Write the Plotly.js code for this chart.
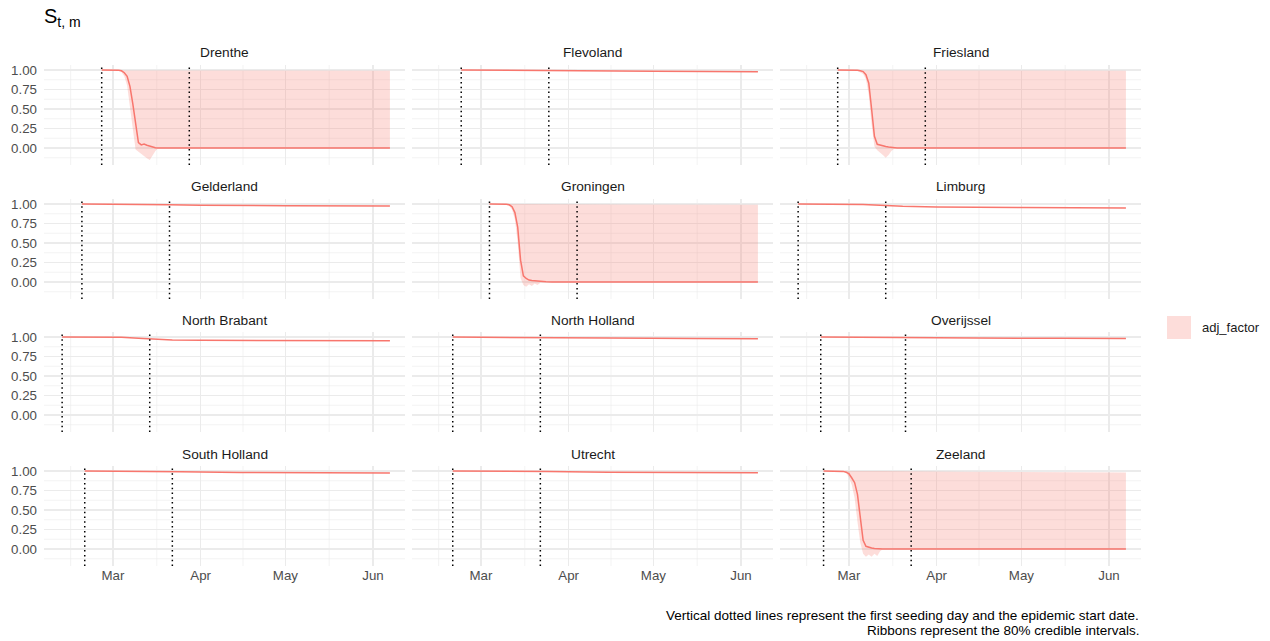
<!DOCTYPE html>
<html><head><meta charset="utf-8">
<script src="https://cdn.plot.ly/plotly-3.0.1.min.js"></script>
<style>html,body{margin:0;padding:0;background:#fff}#chart{width:1270px;height:641px}</style>
</head><body><div id="chart"></div>
<script>
// ---------- data ----------
const regions = ['Drenthe','Flevoland','Friesland','Gelderland','Groningen','Limburg','North Brabant','North Holland','Overijssel','South Holland','Utrecht','Zeeland'];
const seedDates  = ['2020-02-26','2020-02-23','2020-02-26','2020-02-19','2020-03-04','2020-02-12','2020-02-12','2020-02-20','2020-02-20','2020-02-20','2020-02-20','2020-02-21'];
const startDates = ['2020-03-28','2020-03-25','2020-03-28','2020-03-21','2020-04-04','2020-03-14','2020-03-14','2020-03-22','2020-03-21','2020-03-22','2020-03-22','2020-03-23'];

const drentheDates = ['2020-02-26','2020-02-28','2020-03-01','2020-03-02','2020-03-03','2020-03-04','2020-03-05','2020-03-06','2020-03-07','2020-03-08','2020-03-09','2020-03-10','2020-03-11','2020-03-12','2020-03-13','2020-03-14','2020-03-15','2020-03-16','2020-03-17','2020-03-20','2020-04-15','2020-06-07'];
const drentheMed = [1,1,1,1,0.998,0.99,0.965,0.92,0.79,0.57,0.3,0.07,0.04,0.05,0.035,0.025,0.01,0.004,0,0,0,0];
const drentheLo  = [1,1,1,1,0.995,0.975,0.92,0.8,0.55,0.25,-0.02,-0.04,-0.07,-0.1,-0.13,-0.155,-0.1,-0.04,0,0,0,0];
const drentheHi  = [1,1,1,1,1,1,1,1,1,1,1,1,1,1,1,1,1,1,1,0.998,0.994,0.99];

const flevolandDates = ['2020-02-23','2020-03-15','2020-03-25','2020-04-15','2020-05-01','2020-05-20','2020-06-07'];
const flevolandMed = [1,0.998,0.995,0.988,0.984,0.981,0.979];

const frieslandDates = ['2020-02-26','2020-03-01','2020-03-03','2020-03-04','2020-03-05','2020-03-06','2020-03-07','2020-03-08','2020-03-09','2020-03-10','2020-03-11','2020-03-12','2020-03-13','2020-03-14','2020-03-15','2020-03-16','2020-03-17','2020-03-18','2020-03-25','2020-04-20','2020-06-07'];
const frieslandMed = [1,1,1,0.998,0.99,0.98,0.94,0.83,0.5,0.15,0.047,0.035,0.025,0.018,0.012,0.007,0.003,0,0,0,0];
const frieslandLo  = [1,1,1,0.99,0.975,0.95,0.88,0.68,0.3,0.02,-0.03,-0.06,-0.09,-0.124,-0.09,-0.04,-0.01,0,0,0,0];
const frieslandHi  = [1,1,1,1,1,1,1,1,1,1,1,1,1,1,1,1,1,1,0.998,0.994,0.99];

const gelderlandDates = ['2020-02-19','2020-03-10','2020-03-21','2020-04-01','2020-04-15','2020-05-01','2020-06-07'];
const gelderlandMed = [1,0.998,0.99,0.985,0.98,0.978,0.975];

const groningenDates = ['2020-03-04','2020-03-08','2020-03-10','2020-03-11','2020-03-12','2020-03-13','2020-03-14','2020-03-15','2020-03-16','2020-03-17','2020-03-18','2020-03-19','2020-03-20','2020-03-21','2020-03-22','2020-03-24','2020-03-26','2020-04-20','2020-06-07'];
const groningenMed = [1,1,0.998,0.99,0.965,0.89,0.7,0.28,0.08,0.045,0.025,0.02,0.015,0.01,0.008,0.003,0,0,0];
const groningenLo  = [1,1,0.99,0.975,0.93,0.8,0.5,0.05,-0.04,-0.06,-0.03,-0.05,-0.02,-0.04,-0.01,0,0,0,0];
const groningenHi  = [1,1,1,1,1,1,1,1,1,1,1,1,1,1,1,1,1,0.995,0.99];

const limburgDates = ['2020-02-12','2020-03-02','2020-03-06','2020-03-10','2020-03-14','2020-03-20','2020-04-01','2020-04-15','2020-05-01','2020-06-07'];
const limburgMed = [1,0.999,0.995,0.988,0.979,0.97,0.961,0.956,0.954,0.95];

const northBrabantDates = ['2020-02-12','2020-03-04','2020-03-10','2020-03-16','2020-03-22','2020-04-01','2020-05-01','2020-06-07'];
const northBrabantMed = [1,0.998,0.985,0.97,0.962,0.957,0.953,0.952];

const northHollandDates = ['2020-02-20','2020-03-15','2020-03-25','2020-04-15','2020-05-15','2020-06-07'];
const northHollandMed = [1,0.998,0.992,0.986,0.981,0.979];

const overijsselDates = ['2020-02-20','2020-03-15','2020-03-25','2020-04-15','2020-05-15','2020-06-07'];
const overijsselMed = [1,0.998,0.993,0.987,0.983,0.981];

const southHollandDates = ['2020-02-20','2020-03-15','2020-03-25','2020-04-15','2020-05-15','2020-06-07'];
const southHollandMed = [1,0.997,0.99,0.982,0.977,0.975];

const utrechtDates = ['2020-02-20','2020-03-15','2020-03-25','2020-04-15','2020-05-15','2020-06-07'];
const utrechtMed = [1,0.998,0.992,0.984,0.979,0.976];

const zeelandDates = ['2020-02-21','2020-02-26','2020-02-28','2020-02-29','2020-03-01','2020-03-02','2020-03-03','2020-03-04','2020-03-05','2020-03-06','2020-03-07','2020-03-08','2020-03-09','2020-03-10','2020-03-11','2020-03-12','2020-03-13','2020-04-10','2020-06-07'];
const zeelandMed = [1,1,0.995,0.985,0.965,0.91,0.85,0.7,0.37,0.11,0.035,0.02,0.012,0.006,0.002,0,0,0,0];
const zeelandLo  = [1,1,0.99,0.97,0.92,0.82,0.65,0.35,0.08,-0.06,-0.1,-0.07,-0.1,-0.06,-0.09,-0.03,0,0,0];
const zeelandHi  = [1,1,1,1,1,1,1,1,1,1,1,1,1,1,1,1,1,0.99,0.98];

const xTickVals = ['2020-03-01','2020-04-01','2020-05-01','2020-06-01'];
const xTickText = ['Mar','Apr','May','Jun'];
const xMinorVals = ['2020-02-15','2020-03-16 12:00','2020-04-16','2020-05-16 12:00'];
const yTickVals = [0,0.25,0.5,0.75,1];
const yTickText = ['0.00','0.25','0.50','0.75','1.00'];
const yMinorVals = [-0.125,0.125,0.375,0.625,0.875];
const legendLabel = 'adj_factor';
const captionLines = ['Vertical dotted lines represent the first seeding day and the epidemic start date.','Ribbons represent the 80% credible intervals.'];

// ---------- build ----------
const series = [
  {x:drentheDates, y:drentheMed, lo:drentheLo, hi:drentheHi},
  {x:flevolandDates, y:flevolandMed},
  {x:frieslandDates, y:frieslandMed, lo:frieslandLo, hi:frieslandHi},
  {x:gelderlandDates, y:gelderlandMed},
  {x:groningenDates, y:groningenMed, lo:groningenLo, hi:groningenHi},
  {x:limburgDates, y:limburgMed},
  {x:northBrabantDates, y:northBrabantMed},
  {x:northHollandDates, y:northHollandMed},
  {x:overijsselDates, y:overijsselMed},
  {x:southHollandDates, y:southHollandMed},
  {x:utrechtDates, y:utrechtMed},
  {x:zeelandDates, y:zeelandMed, lo:zeelandLo, hi:zeelandHi}
];

const W = 1270, H = 641;
const colX = [[44,405],[412,773],[780,1141]];
const rowY = [[65,165],[199,299],[332,432],[466,566]];
const xRange = ['2020-02-05 14:00','2020-06-12 08:00'];
const yRange = [-0.218, 1.064];
const FONT = 'Liberation Sans, Arial, sans-serif';
const LINE = '#F8766D';
const FILL = 'rgba(248,118,109,0.25)';
const GRID = '#EBEBEB';

const traces = [];
const layout = {
  width: W, height: H,
  margin: {l:0, r:0, t:0, b:0},
  paper_bgcolor: '#fff', plot_bgcolor: '#fff',
  showlegend: false,
  font: {family: FONT, size: 13, color: '#4D4D4D'},
  title: {text: 'S<sub>t, m</sub>', x: 44/W, xanchor: 'left', xref: 'paper', y: 1 - 16/H, yanchor: 'middle', yref: 'container', font: {family: FONT, size: 20, color: '#000'}},
  shapes: [], annotations: []
};

regions.forEach((name, i) => {
  const r = Math.floor(i/3), c = i % 3;
  const n = i + 1;
  const xa = n === 1 ? 'x' : 'x' + n;
  const ya = n === 1 ? 'y' : 'y' + n;
  const s = series[i];
  layout['xaxis' + (n === 1 ? '' : n)] = {
    type: 'date', domain: [colX[c][0]/W, colX[c][1]/W], range: xRange, anchor: ya,
    tickmode: 'array', tickvals: xTickVals, ticktext: xTickText,
    showticklabels: r === 3, ticks: '', showline: false, zeroline: false,
    showgrid: true, gridcolor: GRID, gridwidth: 1.1, fixedrange: true,
    tickfont: {family: FONT, size: 13.3, color: '#4D4D4D'}
  };
  layout['yaxis' + (n === 1 ? '' : n)] = {
    domain: [1 - rowY[r][1]/H, 1 - rowY[r][0]/H], range: yRange, anchor: xa,
    tickmode: 'array', tickvals: yTickVals, ticktext: yTickText,
    showticklabels: c === 0, ticks: '', ticklabelstandoff: 6, showline: false, zeroline: false,
    showgrid: true, gridcolor: GRID, gridwidth: 1.1, fixedrange: true,
    tickfont: {family: FONT, size: 13.3, color: '#4D4D4D'}
  };
  yMinorVals.forEach(v => layout.shapes.push({type:'line', layer:'below', xref: xa + ' domain', x0:0, x1:1, yref: ya, y0:v, y1:v, line:{color:GRID, width:0.6}}));
  xMinorVals.forEach(v => layout.shapes.push({type:'line', layer:'below', xref: xa, x0:v, x1:v, yref: ya + ' domain', y0:0, y1:1, line:{color:GRID, width:0.6}}));
  if (s.lo) {
    traces.push({
      type: 'scatter', mode: 'lines', xaxis: xa, yaxis: ya,
      x: s.x.concat(s.x.slice().reverse()),
      y: s.hi.concat(s.lo.slice().reverse()),
      fill: 'toself', fillcolor: FILL, line: {width: 0, color: 'rgba(0,0,0,0)'}, hoverinfo: 'skip'
    });
  }
  traces.push({type:'scatter', mode:'lines', xaxis: xa, yaxis: ya, x: s.x, y: s.y, line:{color: LINE, width: 1.5}, name: name});
  [seedDates[i], startDates[i]].forEach(d => layout.shapes.push({type:'line', layer:'above', xref: xa, x0:d, x1:d, yref: ya + ' domain', y0:0, y1:1, line:{color:'#000', width:1.5, dash:'1.5px,3.3px'}}));
  layout.annotations.push({text: name, xref:'paper', yref:'paper', x: (colX[c][0]+colX[c][1])/2/W, y: 1 - (rowY[r][0]-12)/H, xanchor:'center', yanchor:'middle', showarrow:false, font:{family: FONT, size: 13.7, color:'#1A1A1A'}});
});

// legend (drawn manually)
layout.shapes.push({type:'rect', xref:'paper', yref:'paper', x0:1167/W, x1:1191/W, y0:1-339/H, y1:1-316/H, fillcolor: FILL, line:{width:0}});
layout.annotations.push({text: legendLabel, xref:'paper', yref:'paper', x:1200/W, y:1-327.5/H, xanchor:'left', yanchor:'middle', showarrow:false, font:{family: FONT, size: 13, color:'#1A1A1A'}});
// caption
captionLines.forEach((t, k) => layout.annotations.push({text: t, xref:'paper', yref:'paper', x:1141/W, y:1-(615+15*k)/H, xanchor:'right', yanchor:'middle', showarrow:false, font:{family: FONT, size: 13.5, color:'#000'}}));

Plotly.newPlot('chart', traces, layout, {staticPlot: true, displayModeBar: false});
</script>
</body></html>
